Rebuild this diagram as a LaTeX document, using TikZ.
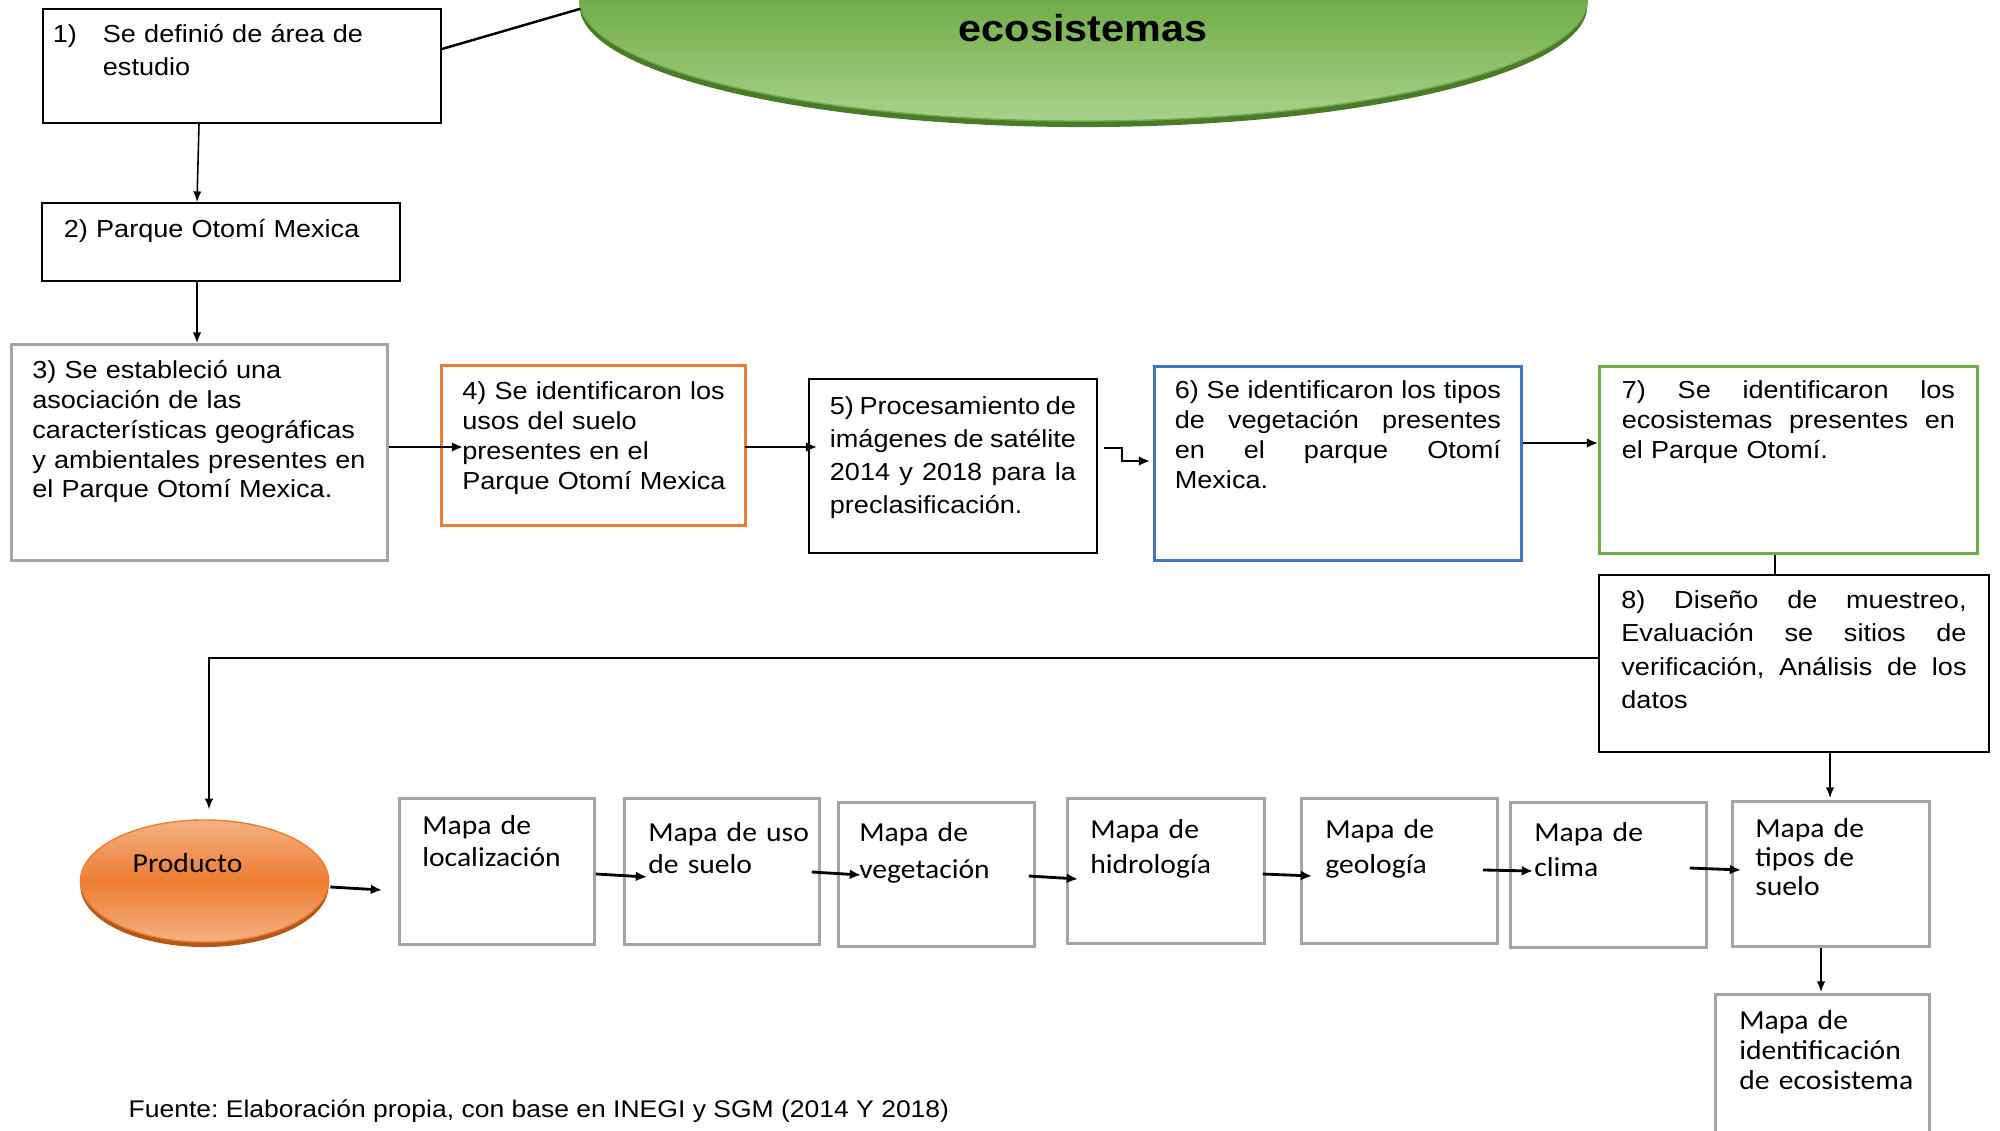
\documentclass[tikz,border=0pt]{standalone}
\usepackage{fontspec}
\setmainfont[FakeStretch=1.1]{Liberation Sans}
\newfontfamily\mapff[FakeStretch=1.08]{Carlito}
\usetikzlibrary{shapes.geometric,arrows.meta,calc}
\frenchspacing
\definecolor{gborder}{HTML}{A5A5A5}
\definecolor{oborder}{HTML}{ED7D31}
\definecolor{bborder}{HTML}{4472C4}
\definecolor{grborder}{HTML}{70AD47}
\definecolor{gdark}{HTML}{4F8A2A}
\definecolor{gtop}{HTML}{70AD47}
\definecolor{gbot}{HTML}{A9D18E}
\definecolor{gshadow}{HTML}{4A7A2A}
\definecolor{otop}{HTML}{F4B183}
\definecolor{omid}{HTML}{ED7D31}
\definecolor{oshadow}{HTML}{B4581A}
\newcommand\af[1]{\fontsize{7pt}{#1}\selectfont}
\newcommand\mf[1]{\mapff\fontsize{7.8pt}{#1}\selectfont}
\newcommand\jl[2]{\makebox[#1][s]{\spaceskip=0.2em plus 1fil\relax\xspaceskip=0.2em plus 1fil\relax #2}}
\newcommand\ml[1]{\mbox{#1}}
\tikzset{
  box/.style={draw, anchor=north west, inner ysep=0pt, align=left},
  blackbox/.style={box, draw=black, line width=0.5pt},
  graybox/.style={box, draw=gborder, line width=0.75pt},
  orangebox/.style={box, draw=oborder, line width=0.75pt},
  bluebox/.style={box, draw=bborder, line width=0.75pt},
  greenbox/.style={box, draw=grborder, line width=0.75pt},
  mapbox/.style={box, draw=gborder, line width=0.75pt},
  thinarr/.style={-{Latex[length=3pt,width=2.4pt]}, line width=0.45pt},
  thickarr/.style={-{Latex[length=3.2pt,width=2.8pt]}, line width=0.8pt},
  plainline/.style={line width=0.45pt}
}
\begin{document}
\begin{tikzpicture}[x=0.01cm, y=-0.01cm]
\useasboundingbox (0,0) rectangle (2000,1131);
\clip (0,0) rectangle (2000,1131);

% ---- top ellipse ----
\fill[gshadow] (1083.5,6) ellipse [x radius=5.035cm, y radius=1.21cm];
\node[ellipse, minimum width=10.07cm, minimum height=2.42cm, inner sep=0pt,
      top color=gdark, bottom color=gbot, middle color=gtop, draw=gtop, line width=0.4pt] (ell) at (1083.5,0) {};
\node[font=\fontsize{10.7pt}{12pt}\selectfont\bfseries, anchor=base] (title) at (1083,42) {ecosistemas};

% ---- top boxes ----
\node[blackbox, inner xsep=0.10cm, text width=3.78cm, text height=0.34cm, text depth=0.80cm, font=\af{9.4pt}]
  (b1) at (42,8) {\ml{\makebox[0.5cm][l]{1)}Se definió de área de}\\\ml{\hspace*{0.5cm}estudio}};
\node[blackbox, inner xsep=0.22cm, text width=3.14cm, text height=0.35cm, text depth=0.43cm, font=\af{8.5pt}]
  (b2) at (41,202) {\ml{2) Parque Otomí Mexica}};
\node[graybox, inner xsep=0.21cm, text width=3.34cm, text height=0.34cm, text depth=1.82cm, font=\af{8.5pt}]
  (b3) at (10,343) {\ml{3) Se estableció una}\\\ml{asociación de las}\\\ml{características geográficas}\\\ml{y ambientales presentes en}\\\ml{el Parque Otomí Mexica.}};
\node[orangebox, inner xsep=0.21cm, text width=2.62cm, text height=0.34cm, text depth=1.26cm, font=\af{8.5pt}]
  (b4) at (440,364) {\ml{4) Se identificaron los}\\\ml{usos del suelo}\\\ml{presentes en el}\\\ml{Parque Otomí Mexica}};
\node[blackbox, inner xsep=0.21cm, text width=2.46cm, text height=0.36cm, text depth=1.38cm, font=\af{9.3pt}]
  (b5) at (808,378) {\jl{2.46cm}{5) Procesamiento de}\\\jl{2.46cm}{imágenes de satélite}\\\jl{2.46cm}{2014 y 2018 para la}\\\ml{preclasificación.}};
\node[bluebox, inner xsep=0.205cm, text width=3.26cm, text height=0.32cm, text depth=1.62cm, font=\af{8.5pt}]
  (b6) at (1153,365) {\jl{3.26cm}{6) Se identificaron los tipos}\\\jl{3.26cm}{de vegetación presentes}\\\jl{3.26cm}{en el parque Otomí}\\\ml{Mexica.}};
\node[greenbox, inner xsep=0.225cm, text width=3.33cm, text height=0.32cm, text depth=1.55cm, font=\af{8.5pt}]
  (b7) at (1598,365) {\jl{3.33cm}{7) Se identificaron los}\\\jl{3.33cm}{ecosistemas presentes en}\\\ml{el Parque Otomí.}};
\node[blackbox, inner xsep=0.225cm, text width=3.45cm, text height=0.34cm, text depth=1.43cm, font=\af{9.4pt}]
  (b8) at (1598,574) {\jl{3.45cm}{8) Diseño de muestreo,}\\\jl{3.45cm}{Evaluación se sitios de}\\\jl{3.45cm}{verificación, Análisis de los}\\\ml{datos}};

% ---- producto ----
\fill[oshadow] (204.5,886) ellipse [x radius=1.24cm, y radius=0.61cm];
\node[ellipse, minimum width=2.48cm, minimum height=1.22cm, inner sep=0pt,
      top color=otop, bottom color=otop, middle color=omid, draw=omid, line width=0.4pt] (prod) at (204.5,881) {};
\node[font=\mf{9pt}, anchor=base west, inner sep=0pt] (prodtxt) at (132,872) {Producto};

% ---- map boxes ----
\node[mapbox, inner xsep=0.23cm, text width=1.49cm, text height=0.36cm, text depth=1.10cm, font=\mf{9.1pt}]
  (loc) at (398,797) {\ml{Mapa de}\\\ml{localización}};
\node[mapbox, inner xsep=0.24cm, text width=1.47cm, text height=0.43cm, text depth=1.03cm, font=\mf{9.1pt}]
  (uso) at (623,797) {\ml{Mapa de uso}\\\ml{de suelo}};
\node[mapbox, inner xsep=0.21cm, text width=1.54cm, text height=0.39cm, text depth=1.05cm, font=\mf{10.5pt}]
  (veg) at (837,801) {\ml{Mapa de}\\\ml{vegetación}};
\node[mapbox, inner xsep=0.23cm, text width=1.51cm, text height=0.40cm, text depth=1.05cm, font=\mf{10pt}]
  (hid) at (1066,797) {\ml{Mapa de}\\\ml{hidrología}};
\node[mapbox, inner xsep=0.24cm, text width=1.48cm, text height=0.40cm, text depth=1.05cm, font=\mf{10pt}]
  (geo) at (1300,797) {\ml{Mapa de}\\\ml{geología}};
\node[mapbox, inner xsep=0.24cm, text width=1.48cm, text height=0.39cm, text depth=1.06cm, font=\mf{10pt}]
  (clima) at (1509,801) {\ml{Mapa de}\\\ml{clima}};
\node[mapbox, inner xsep=0.23cm, text width=1.51cm, text height=0.36cm, text depth=1.09cm, font=\mf{8.2pt}]
  (tipos) at (1731,800) {\ml{Mapa de}\\\ml{tipos de}\\\ml{suelo}};
\node[mapbox, inner xsep=0.24cm, text width=1.66cm, text height=0.35cm, text depth=1.17cm, font=\mf{8.5pt}]
  (ident) at (1714,993) {\ml{Mapa de}\\\ml{identificación}\\\ml{de ecosistema}};

% ---- footer ----
\node[font=\fontsize{6.85pt}{8pt}\selectfont, anchor=base west, inner sep=0pt] (src) at (128,1117)
  {Fuente: Elaboración propia, con base en INEGI y SGM (2014 Y 2018)};

% ---- connectors ----
\draw[line width=0.7pt] ($(b1.north east)+(0,41)$) -- (ell.181);
\draw[thinarr] ($(b1.south west)+(157,0)$) -- ($(b2.north west)+(156,0)$);
\draw[thinarr] ($(b2.south west)+(156,0)$) -- ($(b3.north west)+(187,0)$);
\draw[thickarr] ($(b3.north east)+(0,104)$) -- ($(b4.north west)+(23,83)$);
\draw[thickarr] ($(b4.north east)+(-2,83)$) -- ($(b5.north west)+(9,69)$);
\draw[thickarr] ($(b5.north east)+(6,70)$) -- ++(18,0) |- ($(b6.north west)+(-3,96)$);
\draw[thickarr] ($(b6.north east)+(0,78)$) -- ($(b7.north west)+(0,78)$);
\draw[plainline] ($(b7.south west)+(177,0)$) -- ($(b8.north west)+(177,0)$);
\draw[thinarr] ($(b8.north west)+(0,84)$) -| ($(prod.north)+(4.5,-10)$);
\draw[thinarr] ($(b8.south west)+(232,0)$) -- ($(tipos.north west)+(99,-2)$);
\draw[thinarr] ($(tipos.south west)+(90,0)$) -- ($(ident.north west)+(107,-1)$);
\draw[thickarr] ($(prod.east)+(1,6)$) -- ($(loc.north west)+(-16,93)$);
\draw[thickarr] ($(loc.north east)+(0,77)$) -- ($(uso.north west)+(24,80)$);
\draw[thickarr] ($(uso.north east)+(-9,75)$) -- ($(veg.north west)+(24,74)$);
\draw[thickarr] ($(veg.north east)+(-7,75)$) -- ($(hid.north west)+(12,82)$);
\draw[thickarr] ($(hid.north east)+(-3,77)$) -- ($(geo.north west)+(12,79)$);
\draw[thickarr] ($(geo.north east)+(-16,73)$) -- ($(clima.north west)+(24,70)$);
\draw[thickarr] ($(clima.north east)+(-18,67)$) -- ($(tipos.north west)+(10,70)$);
\end{tikzpicture}
\end{document}
